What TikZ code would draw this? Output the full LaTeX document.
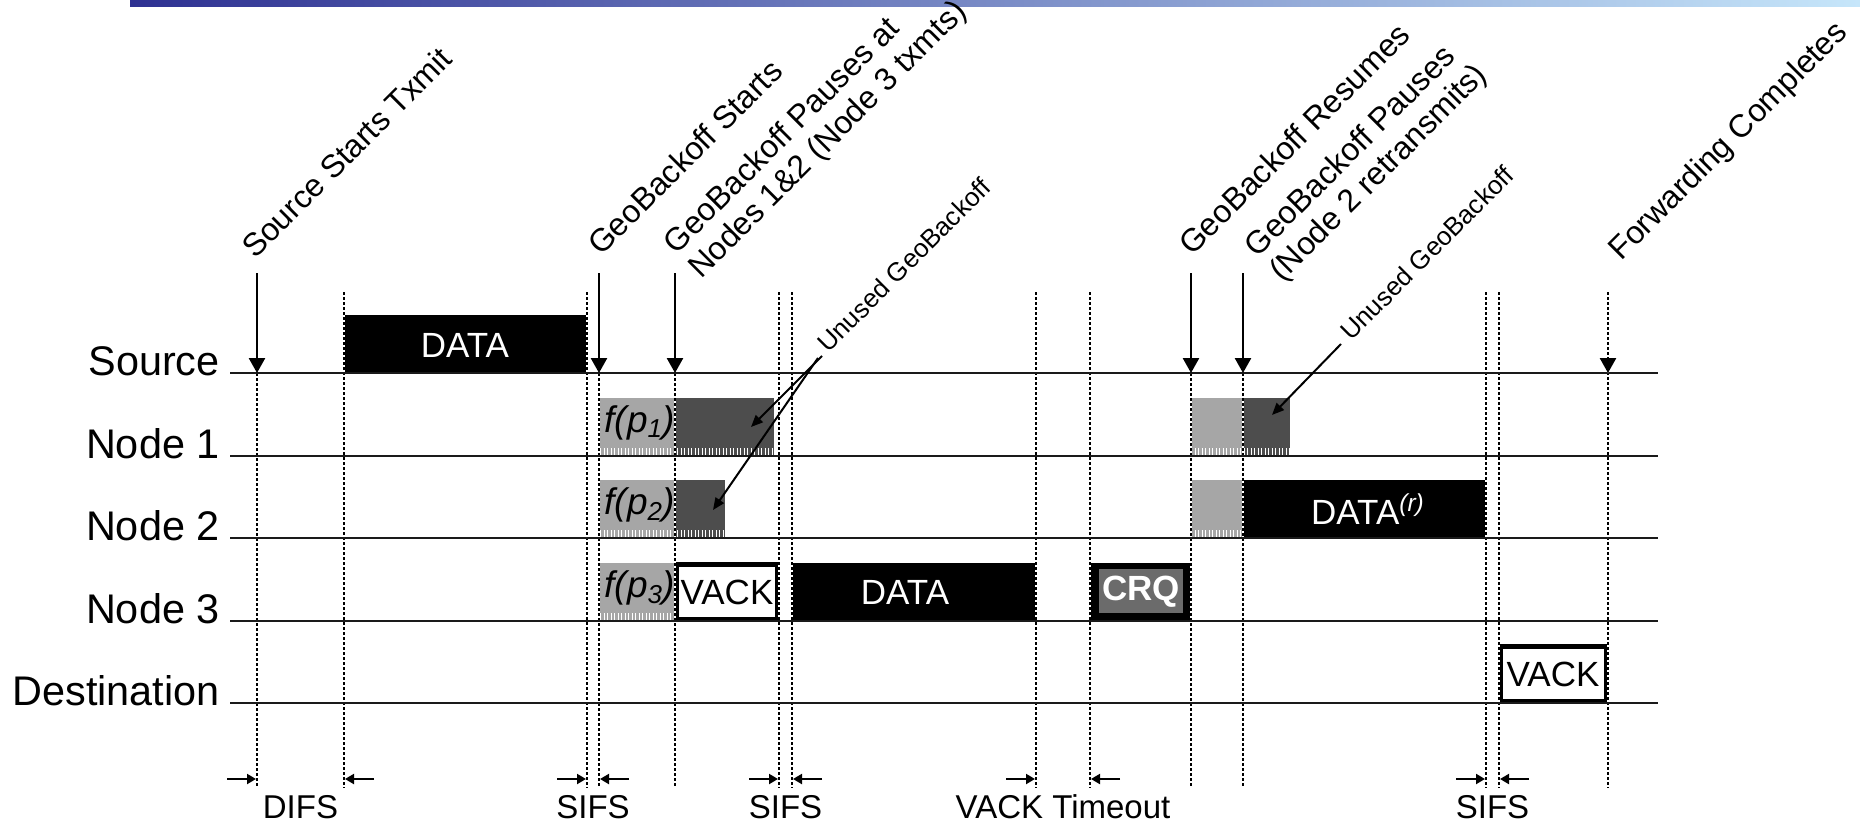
\documentclass[tikz,border=0pt]{standalone}
\usepackage{fontspec}
\setmainfont{Liberation Sans}
\usepackage{tikz}
\usetikzlibrary{arrows.meta}
\definecolor{cInk}{HTML}{1A1A1A}
\definecolor{cLite}{HTML}{A6A6A6}
\definecolor{cDark}{HTML}{4D4D4D}
\definecolor{cCrq}{HTML}{6B6B6B}
\definecolor{cBarA}{HTML}{2E3192}
\definecolor{cBarB}{HTML}{C6E6FA}
\tikzset{
  rowline/.style  = {draw=cInk, line width=1.25pt},
  dotline/.style  = {draw=black, line width=1.3pt, dash pattern=on 1.25pt off 1.25pt,
                     preaction={draw=white, solid, line width=1.3pt}},
  evarrow/.style  = {draw=black, line width=1.3pt, -{Triangle[length=7.5pt,width=8pt]}},
  leader/.style   = {draw=black, line width=1pt, -{Triangle[length=6pt,width=5pt]}},
  gaparrow/.style = {draw=black, line width=1pt, -{Triangle[length=4.5pt,width=5pt]}},
  rowlbl/.style   = {anchor=base east, inner sep=0, font=\fontsize{20.7}{24}\selectfont},
  evlbl/.style    = {rotate=45, inner sep=0, align=left, font=\fontsize{16}{17.5}\selectfont},
  unused/.style   = {rotate=45, inner sep=0, anchor=base west, font=\fontsize{13}{16}\selectfont},
  gaplbl/.style   = {anchor=base, inner sep=0, font=\fontsize{16.5}{20}\selectfont},
  pkt/.style      = {inner sep=0, font=\fontsize{17.5}{20}\selectfont},
  ackbox/.style   = {draw=black, fill=white, line width=2.6pt},
  hatch/.style    = {draw=white, line width=4pt, dash pattern=on 0.5pt off 1.25pt},
  fp/.style       = {anchor=base west, inner sep=0, font=\fontsize{18.5}{20}\selectfont\itshape},
}
\begin{document}
\begin{tikzpicture}[x=0.5pt, y=-0.5pt]
  \useasboundingbox (0,0) rectangle (1860,825);
  \shade[left color=cBarA, right color=cBarB] (130,0) rectangle (1860,6);

  % blocks
  \fill[black] (344,315) rectangle (587,373);
  \fill[cLite] (600,398) rectangle (675,456);
  \fill[cDark] (675,398) rectangle (774,456);
  \fill[cLite] (600,480) rectangle (675,538);
  \fill[cDark] (675,480) rectangle (725,538);
  \fill[cLite] (600,563) rectangle (675,621);
  \draw[ackbox] (676.3,564.3) rectangle (777.7,619.7);
  \fill[black] (792,563) rectangle (1036,621);
  \fill[black] (1090,563) rectangle (1191,621);
  \fill[cCrq] (1099,569) rectangle (1183,613);
  \fill[cLite] (1191,398) rectangle (1243,456);
  \fill[cDark] (1243,398) rectangle (1290,456);
  \fill[cLite] (1191,480) rectangle (1243,538);
  \fill[black] (1243,480) rectangle (1486,538);
  \draw[ackbox] (1500.5,646.5) rectangle (1606.5,701.5);
  \draw[hatch] (600,452) -- (774,452);
  \draw[hatch] (600,534) -- (725,534);
  \draw[hatch] (600,617) -- (675,617);
  \draw[hatch] (1191,452) -- (1290,452);
  \draw[hatch] (1191,534) -- (1243,534);

  % time marks
  \foreach \x in {344,587,779,792,1036,1090,1486,1499,1608}
    \draw[dotline] (\x,292) -- (\x,788);
  \foreach \x in {257,599,675,1191,1243}
    \draw[dotline] (\x,373) -- (\x,788);

  \foreach \r/\y/\t in {Src/373/Source, N1/456/Node 1, N2/538/Node 2,
                        N3/621/Node 3, Dst/703/Destination} {
    \coordinate (r\r) at (230,\y);
    \draw[rowline] (r\r) -- (1658,\y);
    \node[rowlbl] (l\r) at (220,\y+2) {\t};
  }

  \foreach \x in {257,599,675,1191,1243}
    \draw[evarrow] (\x,273) -- (\x,373);
  \draw[dotline, -{Triangle[length=7.5pt,width=8pt]}] (1608,292) -- (1608,373);

  \node[evlbl, anchor=base west] (eTx) at (255,260) {Source Starts Txmit};
  \node[evlbl, anchor=base west] (eBoStart) at (601,257) {GeoBackoff Starts};
  \node[evlbl, anchor=south west] (eBoPause) at (706,285)
    {GeoBackoff Pauses at\\Nodes 1\&2 (Node 3 txmts)};
  \node[evlbl, anchor=base west] (eBoResume) at (1192,257) {GeoBackoff Resumes};
  \node[evlbl, anchor=south west] (eBoPause2) at (1287,288)
    {GeoBackoff Pauses\\(Node 2 retransmits)};
  \node[evlbl, anchor=base west] (eFwd) at (1621,262) {Forwarding Completes};

  \node[unused] (uA) at (828,354) {Unused GeoBackoff};
  \node[unused] (uB) at (1351,342) {Unused GeoBackoff};
  \coordinate (tipA1) at (751,427);
  \coordinate (tipA2) at (713,510);
  \coordinate (tipB) at (1272,415);
  \draw[leader] ([xshift=-3pt,yshift=-1pt]uA.base west) -- (tipA1);
  \draw[leader] ([xshift=-5pt,yshift=-2pt]uA.base west) -- (tipA2);
  \draw[leader] ([xshift=-5pt,yshift=-1pt]uB.base west) -- (tipB);

  % block texts
  \node[pkt, text=white] (dSrc) at (465,345) {DATA};
  \node[fp] (fp1) at (604,432) {f(p\textsubscript{1})};
  \node[fp] (fp2) at (604,514) {f(p\textsubscript{2})};
  \node[fp] (fp3) at (604,597) {f(p\textsubscript{3})};
  \node[pkt] (ackN3) at (727,592) {VACK};
  \node[pkt, text=white] (dN3) at (905,592) {DATA};
  \node[pkt, text=white, font=\fontsize{17.5}{20}\selectfont\bfseries] (crq) at (1141,592) {CRQ};
  \node[pkt, text=white] (dN2) at (1368,509) {DATA\textsuperscript{\itshape(r)}};
  \node[pkt] (ackDst) at (1553,674) {VACK};

  % gaps
  \foreach \a/\b/\t in {257/344/DIFS, 587/599/SIFS, 779/792/SIFS,
                        1036/1090/VACK Timeout, 1486/1499/SIFS} {
    \draw[gaparrow] (\a-30,779) -- (\a-1,779);
    \draw[gaparrow] (\b+30,779) -- (\b+1,779);
    \node[gaplbl] (g\a) at ({(\a+\b)/2},818) {\t};
  }
\end{tikzpicture}
\end{document}
